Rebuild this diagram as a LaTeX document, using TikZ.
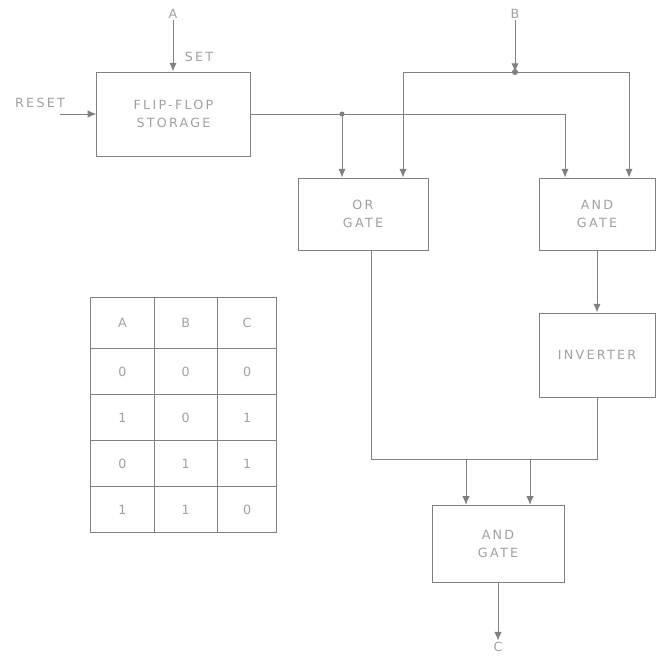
\documentclass[tikz,border=0pt]{standalone}
\usepackage{fontspec}
\setmainfont{DejaVu Sans}[LetterSpace=18]
\usetikzlibrary{arrows.meta, positioning, matrix}
\definecolor{lnegrey}{HTML}{808080}
\definecolor{txtgrey}{HTML}{A0A0A0}

\begin{document}
\begin{tikzpicture}[x=0.75pt, y=-0.75pt, font=\fontsize{9.5}{14}\selectfont, text=txtgrey,
      blk/.style={draw=lnegrey, line width=0.75pt, align=center, inner sep=2pt},
      wire/.style={draw=lnegrey, line width=0.75pt},
      arr/.style={wire, -{Latex[length=6.5pt, width=5.5pt]}, lnegrey},
      lbl/.style={inner sep=1pt}]
      \useasboundingbox (0,0) rectangle (659,657);
      % blocks
      \node[blk, minimum width=115pt, minimum height=63pt] (ff) at (173.5,114) {FLIP-FLOP\\STORAGE};
      \node[blk, minimum width=97.5pt, minimum height=54pt] (orgate) at (363,214) {OR\\GATE};
      \node[blk, minimum width=87pt, minimum height=54pt] (and1) at (597,214) {AND\\GATE};
      \node[blk, minimum width=87pt, minimum height=63pt] (inv) at (597,355) {INVERTER};
      \node[blk, minimum width=99pt, minimum height=58pt] (and2) at (498,544) {AND\\GATE};

      % inputs and output
      \node[lbl] (a) at (173,14) {A};
      \node[lbl] (set) at (199,57) {SET};
      \node[lbl] (reset) at (40,103) {RESET};
      \node[lbl] (b) at (515,14) {B};
      \node[lbl] (c) at (498,647) {C};
      \coordinate (rs) at (60,114);
      \draw[arr] (a) -- (ff.north -| a);
      \draw[arr] (rs) -- (ff.west);

      % flip-flop output
      \coordinate (qj) at (342,114);
      \coordinate (qr) at (565,114);
      \draw[wire] (ff.east) -- (qr);
      \fill[lnegrey] (qj) circle (2.5);
      \draw[arr] (qj) -- (qj |- orgate.north);
      \draw[arr] (qr) -- (qr |- and1.north);

      % B input
      \coordinate (bj) at (515,72);
      \coordinate (bl) at (403,72);
      \coordinate (br) at (629,72);
      \draw[arr] (b) -- (bj);
      \fill[lnegrey] (bj) circle (3);
      \draw[wire] (bl) -- (br);
      \draw[arr] (bl) -- (bl |- orgate.north);
      \draw[arr] (br) -- (br |- and1.north);

      % gates to final and
      \draw[arr] (and1) -- (inv);
      \coordinate (ol) at (371,459);
      \coordinate (ir) at (597,459);
      \coordinate (m1) at (466,459);
      \coordinate (m2) at (530,459);
      \draw[wire] (orgate.south -| ol) -- (ol) -- (ir) -- (inv.south);
      \draw[arr] (m1) -- (m1 |- and2.north);
      \draw[arr] (m2) -- (m2 |- and2.north);
      \draw[arr] (and2) -- (c);

      % truth table
      \matrix[matrix of nodes, anchor=north west, inner sep=0pt, column sep=-0.75pt, row sep=-0.75pt,
              nodes={draw=lnegrey, line width=0.75pt, minimum width=47.5pt, minimum height=34.5pt, anchor=center},
              row 1/.style={nodes={minimum height=38pt}},
              column 3/.style={nodes={minimum width=44.5pt}}] (tbl) at (90,297) {
        A & B & C \\
        0 & 0 & 0 \\
        1 & 0 & 1 \\
        0 & 1 & 1 \\
        1 & 1 & 0 \\
      };
    \end{tikzpicture}
\end{document}
